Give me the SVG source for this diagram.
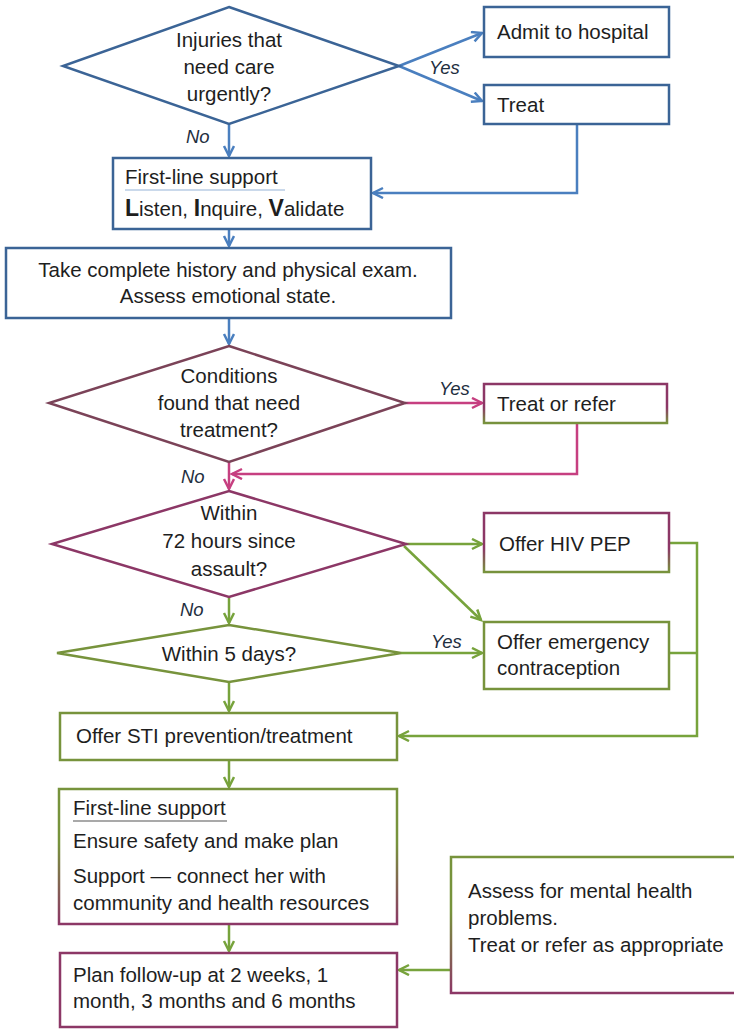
<svg xmlns="http://www.w3.org/2000/svg" width="734" height="1029" viewBox="0 0 734 1029">
<style>
text{font-family:"Liberation Sans",Arial,sans-serif;font-size:20.5px;fill:#1e1e1e}
.c{text-anchor:middle}
.lbl{font-style:italic;font-size:18.5px;fill:#1f2f3f}
.bx{fill:#fff;stroke:#3b6496;stroke-width:2.5}
.pg{fill:#fff;stroke:url(#gPG);stroke-width:2.5}
.gp{fill:#fff;stroke:url(#gGP);stroke-width:2.5}
.gr{fill:#fff;stroke:#77933c;stroke-width:2.5}
.pu{fill:#fff;stroke:#8c3766;stroke-width:2.5}
.cb{fill:none;stroke:#4a7fbf;stroke-width:2.5}
.cm{fill:none;stroke:#c63f80;stroke-width:2.5}
.cg{fill:none;stroke:#77a33c;stroke-width:2.5}
</style>
<defs>
<linearGradient id="gPG" x1="0" y1="0" x2="0" y2="1"><stop offset="0" stop-color="#8c3766"/><stop offset="0.6" stop-color="#8c3766"/><stop offset="1" stop-color="#77933c"/></linearGradient>
<linearGradient id="gGP" x1="0" y1="0" x2="0" y2="1"><stop offset="0" stop-color="#77933c"/><stop offset="0.4" stop-color="#77933c"/><stop offset="1" stop-color="#8c3766"/></linearGradient>
<marker id="ab" markerUnits="userSpaceOnUse" markerWidth="14" markerHeight="14" refX="11" refY="6" orient="auto"><path d="M1,1 L11,6 L1,11" fill="none" stroke="#4a7fbf" stroke-width="2.5"/></marker>
<marker id="am" markerUnits="userSpaceOnUse" markerWidth="14" markerHeight="14" refX="11" refY="6" orient="auto"><path d="M1,1 L11,6 L1,11" fill="none" stroke="#c63f80" stroke-width="2.5"/></marker>
<marker id="ag" markerUnits="userSpaceOnUse" markerWidth="14" markerHeight="14" refX="11" refY="6" orient="auto"><path d="M1,1 L11,6 L1,11" fill="none" stroke="#77a33c" stroke-width="2.5"/></marker>
</defs>

<g id="connectors">
<line class="cb" x1="399" y1="66" x2="482" y2="33" marker-end="url(#ab)"/>
<line class="cb" x1="399" y1="66" x2="482" y2="101" marker-end="url(#ab)"/>
<line class="cb" x1="229" y1="124" x2="229" y2="156" marker-end="url(#ab)"/>
<polyline class="cb" points="577,124 577,193 373,193" marker-end="url(#ab)"/>
<line class="cb" x1="229" y1="229" x2="229" y2="246" marker-end="url(#ab)"/>
<line class="cb" x1="229" y1="318" x2="229" y2="344" marker-end="url(#ab)"/>
<line class="cm" x1="405" y1="403" x2="482" y2="403" marker-end="url(#am)"/>
<polyline class="cm" points="577,423 577,474 232,474" marker-end="url(#am)"/>
<line class="cm" x1="229" y1="462" x2="229" y2="489" marker-end="url(#am)"/>
<line class="cg" x1="406" y1="544" x2="482" y2="544" marker-end="url(#ag)"/>
<line class="cg" x1="404" y1="546" x2="481" y2="620" marker-end="url(#ag)"/>
<line class="cg" x1="229" y1="597" x2="229" y2="623" marker-end="url(#ag)"/>
<line class="cg" x1="401" y1="653" x2="482" y2="653" marker-end="url(#ag)"/>
<line class="cg" x1="229" y1="682" x2="229" y2="711" marker-end="url(#ag)"/>
<polyline class="cg" points="669,543 697,543 697,736 399,736" marker-end="url(#ag)"/>
<line class="cg" x1="669" y1="653" x2="697" y2="653"/>
<line class="cg" x1="229" y1="760" x2="229" y2="787" marker-end="url(#ag)"/>
<line class="cg" x1="229" y1="924" x2="229" y2="951" marker-end="url(#ag)"/>
<line class="cg" x1="451" y1="970" x2="399" y2="970" marker-end="url(#ag)"/>
<text class="lbl" x="429" y="74">Yes</text>
<text class="lbl" x="186" y="143">No</text>
<text class="lbl" x="439" y="395">Yes</text>
<text class="lbl" x="181" y="483">No</text>
<text class="lbl" x="180" y="616">No</text>
<text class="lbl" x="431" y="648">Yes</text>
</g>

<g id="n-injuries">
<polygon class="bx" points="229,7 399,66 229,124 63,66"/>
<text class="c" x="229" y="47">Injuries that</text>
<text class="c" x="229" y="74">need care</text>
<text class="c" x="229" y="101">urgently?</text>
</g>
<g id="n-admit">
<rect class="bx" x="484" y="7" width="185" height="50"/>
<text x="497" y="39">Admit to hospital</text>
</g>
<g id="n-treat">
<rect class="bx" x="484" y="85" width="185" height="39"/>
<text x="497" y="112">Treat</text>
</g>
<g id="n-firstline1">
<rect class="bx" x="113" y="158" width="258" height="71"/>
<text x="125" y="184">First-line support</text>
<line x1="125" y1="190" x2="285" y2="190" stroke="#b8cce4" stroke-width="1.5"/>
<text x="125" y="216"><tspan font-weight="bold" font-size="23">L</tspan>isten, <tspan font-weight="bold" font-size="23">I</tspan>nquire, <tspan font-weight="bold" font-size="23">V</tspan>alidate</text>
</g>
<g id="n-history">
<rect class="bx" x="6" y="248" width="445" height="70"/>
<text class="c" x="228" y="277">Take complete history and physical exam.</text>
<text class="c" x="228" y="303">Assess emotional state.</text>
</g>
<g id="n-conditions">
<polygon points="229,346 405,403 229,462 49,403" fill="#fff" stroke="#7b4358" stroke-width="2.5"/>
<text class="c" x="229" y="383">Conditions</text>
<text class="c" x="229" y="410">found that need</text>
<text class="c" x="229" y="437">treatment?</text>
</g>
<g id="n-treatrefer">
<rect class="pg" x="484" y="384" width="183" height="39"/>
<text x="497" y="411">Treat or refer</text>
</g>
<g id="n-72h">
<polygon class="pu" points="229,491 406,544 229,597 52,544"/>
<text class="c" x="229" y="520">Within</text>
<text class="c" x="229" y="548">72 hours since</text>
<text class="c" x="229" y="576">assault?</text>
</g>
<g id="n-hivpep">
<rect class="pg" x="484" y="513" width="185" height="59"/>
<text x="499" y="551">Offer HIV PEP</text>
</g>
<g id="n-5days">
<polygon class="gr" points="229,625 401,653 229,682 57,653"/>
<text class="c" x="229" y="661">Within 5 days?</text>
</g>
<g id="n-ec">
<rect class="gr" x="484" y="622" width="185" height="67"/>
<text x="497" y="649">Offer emergency</text>
<text x="497" y="675">contraception</text>
</g>
<g id="n-sti">
<rect class="gr" x="60" y="713" width="337" height="47"/>
<text x="76" y="743">Offer STI prevention/treatment</text>
</g>
<g id="n-firstline2">
<rect class="gp" x="59" y="789" width="338" height="135"/>
<text x="73" y="815">First-line support</text>
<line x1="73" y1="821" x2="227" y2="821" stroke="#555" stroke-width="1.2"/>
<text x="73" y="848">Ensure safety and make plan</text>
<text x="73" y="883">Support — connect her with</text>
<text x="73" y="910">community and health resources</text>
</g>
<g id="n-followup">
<rect class="pu" x="60" y="953" width="337" height="74"/>
<text x="73" y="982">Plan follow-up at 2 weeks, 1</text>
<text x="73" y="1008">month, 3 months and 6 months</text>
</g>
<g id="n-mental">
<rect class="gp" x="451" y="857" width="290" height="136"/>
<text x="468" y="898">Assess for mental health</text>
<text x="468" y="925">problems.</text>
<text x="468" y="952">Treat or refer as appropriate</text>
</g>
</svg>
